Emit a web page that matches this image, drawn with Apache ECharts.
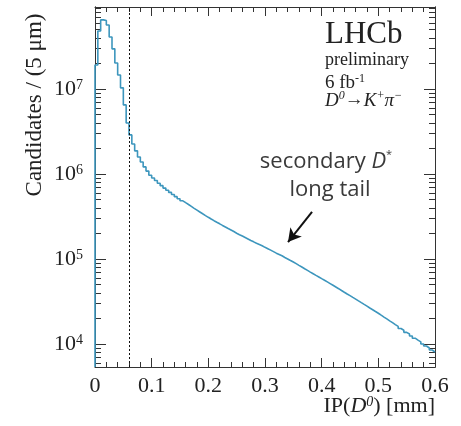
<!DOCTYPE html>
<html>
<head>
<meta charset="utf-8">
<script src="https://cdn.jsdelivr.net/npm/echarts@6/dist/echarts.min.js"></script>
<style>
html,body{margin:0;padding:0;background:#fff;}
#chart{width:461px;height:426px;}
</style>
</head>
<body>
<div id="chart"></div>
<script>
// ---- data ----
const binWidth = 0.005;            // 5 um bins, in mm
const xRange = [0, 0.6];           // IP(D0) [mm]
const yRange = [5.36e3, 9.2e7];    // Candidates axis extent
const yTickExponents = [4, 5, 6, 7];
const cutIP = 0.06;                // dotted vertical line
const counts = [
  1.91e7, 4.81e7, 6.49e7, 6.38e7, 5.66e7, 4.09e7, 2.96e7, 2.02e7, 1.46e7, 1.03e7,
  6.49e6, 3.98e6, 2.88e6, 2.25e6, 1.87e6, 1.58e6, 1.38e6, 1.21e6, 1.08e6, 9.66e5,
  8.95e5, 8.36e5, 7.76e5, 7.28e5, 6.82e5, 6.43e5, 6.07e5, 5.73e5, 5.41e5, 5.11e5,
  4.83e5, 4.59e5, 4.37e5, 4.15e5, 3.94e5, 3.75e5, 3.57e5, 3.40e5, 3.24e5, 3.09e5,
  2.95e5, 2.82e5, 2.70e5, 2.59e5, 2.48e5, 2.38e5, 2.28e5, 2.19e5, 2.10e5, 2.01e5,
  1.93e5, 1.86e5, 1.79e5, 1.72e5, 1.65e5, 1.59e5, 1.53e5, 1.48e5, 1.43e5, 1.37e5,
  1.32e5, 1.27e5, 1.22e5, 1.17e5, 1.13e5, 1.09e5, 1.04e5, 1.00e5, 9.59e4, 9.20e4,
  8.81e4, 8.41e4, 8.04e4, 7.67e4, 7.33e4, 7.00e4, 6.70e4, 6.41e4, 6.14e4, 5.87e4,
  5.62e4, 5.37e4, 5.13e4, 4.90e4, 4.68e4, 4.47e4, 4.26e4, 4.06e4, 3.87e4, 3.70e4,
  3.53e4, 3.37e4, 3.21e4, 3.06e4, 2.92e4, 2.79e4, 2.65e4, 2.53e4, 2.41e4, 2.30e4,
  2.18e4, 2.07e4, 1.97e4, 1.87e4, 1.78e4, 1.69e4, 1.61e4, 1.52e4, 1.45e4, 1.37e4,
  1.31e4, 1.24e4, 1.17e4, 1.11e4, 1.06e4, 1.00e4, 9.46e3, 8.97e3, 8.49e3, 8.05e3
];
const arrowFrom = [0.383, 3.57e5];
const arrowTo   = [0.3406, 1.58e5];

// ---- build ----
const L = Math.log10;
const yMin = L(yRange[0]), yMax = L(yRange[1]);
const histData = [[xRange[0], yMin]];
counts.forEach((c, i) => histData.push([i * binWidth, L(c)]));
histData.push([counts.length * binWidth, L(counts[counts.length - 1])]);

const minorVals = [];
for (let n = 3; n <= 7; n++) for (let k = 2; k <= 9; k++) {
  const v = L(k * Math.pow(10, n));
  if (v > yMin && v < yMax) minorVals.push(v);
}
const majorVals = yTickExponents.slice();

const SERIF = '"Liberation Serif", "DejaVu Serif", serif';
const SANS = '"Open Sans", sans-serif';
const AX = '#333';

function yAx(pos, vals, len, labels) {
  return {
    type: 'value', position: pos, min: yMin, max: yMax,
    axisLine: { show: true, lineStyle: { color: AX, width: 1 } },
    axisTick: { show: true, inside: true, length: len, customValues: vals, lineStyle: { color: AX } },
    splitLine: { show: false },
    axisLabel: labels ? {
      show: true, customValues: majorVals, margin: 12,
      formatter: v => '{b|10}{s|' + Math.round(v) + '}',
      rich: {
        b: { fontFamily: SERIF, fontSize: 22, color: '#222', lineHeight: 22, verticalAlign: 'bottom' },
        s: { fontFamily: SERIF, fontSize: 14, color: '#222', lineHeight: 14, verticalAlign: 'top' }
      }
    } : { show: false }
  };
}
function xAx(pos, labels) {
  return {
    type: 'value', position: pos, min: xRange[0], max: xRange[1], interval: 0.1,
    axisLine: { show: true, onZero: false, lineStyle: { color: AX, width: 1 } },
    axisTick: { show: true, inside: true, length: 9, lineStyle: { color: AX } },
    minorTick: { show: true, splitNumber: 5, length: 5, lineStyle: { color: AX } },
    splitLine: { show: false }, minorSplitLine: { show: false },
    axisLabel: labels ? { show: true, fontFamily: SERIF, fontSize: 22, color: '#222', margin: 8 } : { show: false }
  };
}

const chart = echarts.init(document.getElementById('chart'), null, { renderer: 'canvas' });
chart.setOption({
  animation: false,
  backgroundColor: '#fff',
  grid: { left: 95, right: 26, top: 7, bottom: 59, containLabel: false, outerBoundsMode: 'none' },
  xAxis: [xAx('bottom', true), xAx('top', false)],
  yAxis: [
    yAx('left', majorVals, 11, true),
    yAx('left', minorVals, 6, false),
    yAx('right', majorVals, 11, false),
    yAx('right', minorVals, 6, false)
  ],
  series: [
    {
      type: 'line', step: 'end', showSymbol: false, silent: true,
      data: histData,
      lineStyle: { color: '#3d96bd', width: 1.6 },
      markLine: {
        silent: true, symbol: ['none', 'none'], label: { show: false },
        lineStyle: { color: '#111', width: 1, type: [2, 2] },
        data: [{ xAxis: cutIP }]
      }
    },
    {
      type: 'line', data: [], silent: true,
      markLine: {
        silent: true, symbol: ['none', 'arrow'], symbolSize: [11, 13], label: { show: false },
        lineStyle: { color: '#111', width: 2, type: 'solid' },
        data: [[{ coord: [arrowFrom[0], L(arrowFrom[1])] }, { coord: [arrowTo[0], L(arrowTo[1])] }]]
      }
    }
  ],
  graphic: [
    { type: 'text', x: 35, y: 105, rotation: Math.PI / 2,
      style: { text: 'Candidates / (5 μm)', font: '23px ' + SERIF, fill: '#222', align: 'center', verticalAlign: 'middle' } },
    { type: 'text', x: 435, y: 406,
      style: { text: '{n|IP(}{i|D}{si|0}{n|) [mm]}', align: 'right', verticalAlign: 'middle',
        rich: {
          n: { fontFamily: SERIF, fontSize: 22, fill: '#222', lineHeight: 22, verticalAlign: 'bottom' },
          i: { fontFamily: SERIF, fontSize: 22, fontStyle: 'italic', fill: '#222', lineHeight: 22, verticalAlign: 'bottom' },
          si: { fontFamily: SERIF, fontSize: 14, fontStyle: 'italic', fill: '#222', lineHeight: 14, verticalAlign: 'top' }
        } } },
    { type: 'text', x: 325, y: 35,
      style: { text: 'LHCb', font: '31px ' + SERIF, fill: '#222', align: 'left', verticalAlign: 'middle' } },
    { type: 'text', x: 325, y: 60,
      style: { text: 'preliminary', font: '18px ' + SERIF, fill: '#222', align: 'left', verticalAlign: 'middle' } },
    { type: 'text', x: 325, y: 83,
      style: { text: '{n|6 fb}{s|-1}', align: 'left', verticalAlign: 'middle',
        rich: {
          n: { fontFamily: SERIF, fontSize: 19, fill: '#222', lineHeight: 20, verticalAlign: 'bottom' },
          s: { fontFamily: SERIF, fontSize: 12, fill: '#222', lineHeight: 12, verticalAlign: 'top' }
        } } },
    { type: 'text', x: 325, y: 100,
      style: { text: '{i|D}{si|0}{n|→}{i|K}{si|+}{i|π}{si|−}', align: 'left', verticalAlign: 'middle',
        rich: {
          n: { fontFamily: SERIF, fontSize: 19, fill: '#222', lineHeight: 20, verticalAlign: 'bottom' },
          i: { fontFamily: SERIF, fontSize: 19, fontStyle: 'italic', fill: '#222', lineHeight: 20, verticalAlign: 'bottom' },
          si: { fontFamily: SERIF, fontSize: 12, fontStyle: 'italic', fill: '#222', lineHeight: 12, verticalAlign: 'top' }
        } } },
    { type: 'text', x: 326, y: 161,
      style: { text: '{n|secondary }{i|D}{s|*}', align: 'center', verticalAlign: 'middle',
        rich: {
          n: { fontFamily: SANS, fontSize: 22, fill: '#3a3a3a', lineHeight: 24, verticalAlign: 'bottom' },
          i: { fontFamily: SANS, fontSize: 22, fontStyle: 'italic', fill: '#3a3a3a', lineHeight: 24, verticalAlign: 'bottom' },
          s: { fontFamily: SANS, fontSize: 11, fill: '#3a3a3a', lineHeight: 12, verticalAlign: 'top' }
        } } },
    { type: 'text', x: 330, y: 190,
      style: { text: 'long tail', font: '22px ' + SANS, fill: '#3a3a3a', align: 'center', verticalAlign: 'middle' } }
  ]
});
</script>
</body>
</html>
